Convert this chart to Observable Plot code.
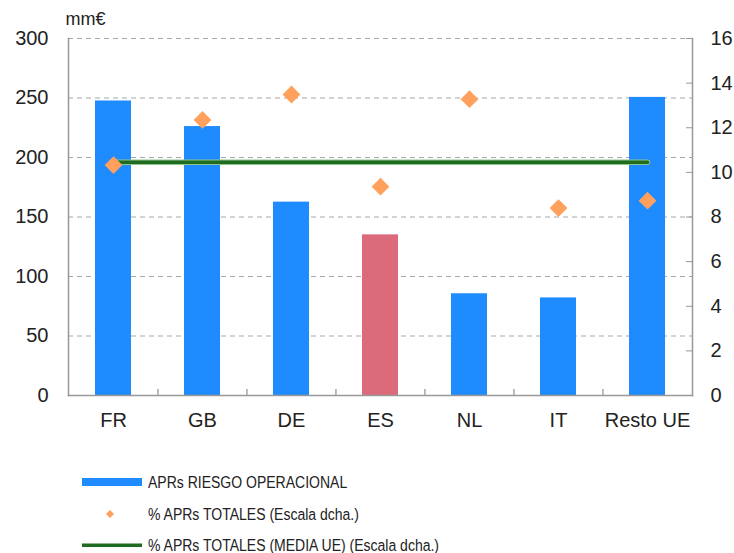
<!DOCTYPE html>
<html>
<head>
<meta charset="utf-8">
<script src="https://cdn.jsdelivr.net/npm/d3@7"></script>
<script src="https://cdn.jsdelivr.net/npm/@observablehq/plot@0.6"></script>
<style>
  html, body { margin: 0; padding: 0; background: #fff; }
  #wrap { position: relative; width: 734px; height: 553px; overflow: hidden; }
  .leg { position: absolute; left: 82px; display: flex; align-items: center; height: 20px;
         font-family: "Liberation Sans", Arial, sans-serif;
         font-size: 16.3px; color: #222; white-space: nowrap; }
  .leg svg { display: block; margin-right: 6px; }
  .leg span { display: inline-block; transform: scaleX(0.86); transform-origin: left center; }
</style>
</head>
<body>
<div id="wrap"></div>
<script>
const categories = ["FR", "GB", "DE", "ES", "NL", "IT", "Resto UE"];
const aprRiesgoOperacional = [247.5, 226, 162.5, 135, 85.5, 82, 250.5];
const pctAprTotales = [10.33, 12.35, 13.49, 9.36, 13.28, 8.40, 8.73];
const mediaUE = 10.45;
const leftTicks = [0, 50, 100, 150, 200, 250, 300];
const rightTicks = [0, 2, 4, 6, 8, 10, 12, 14, 16];
const highlight = "ES";

const blue = "#1E8BFF", pink = "#DB6A7B", orange = "#FFA15C", green = "#1F6B1F";
const k = 300 / 16; // right scale -> left scale

const bars = categories.map((c, i) => ({cat: c, v: aprRiesgoOperacional[i]}));
const dots = categories.map((c, i) => ({cat: c, v: pctAprTotales[i] * k}));
const media = [categories[0], categories[categories.length - 1]].map(c => ({cat: c, v: mediaUE * k}));

const W = 734, ML = 68, MR = 42, MT = 38, MB = 45, H = 440;
const step = (W - ML - MR) / categories.length;

const chart = Plot.plot({
  width: W, height: H,
  marginLeft: ML, marginRight: MR, marginTop: MT, marginBottom: MB,
  style: {fontFamily: "'Liberation Sans', Arial, sans-serif", fontSize: "20px", color: "#222", background: "#fff"},
  x: {domain: categories, paddingInner: 0.6, paddingOuter: 0.3, label: null},
  y: {domain: [0, 300], label: null},
  marks: [
    Plot.gridY(leftTicks.slice(1), {stroke: "#a8a8a8", strokeOpacity: 1, strokeDasharray: "5,4", strokeWidth: 1.2}),
    Plot.barY(bars, {x: "cat", y: "v", fill: d => d.cat === highlight ? pink : blue}),
    Plot.line(media, {x: "cat", y: "v", stroke: "#8fc48f", strokeWidth: 5.5}),
    Plot.line(media, {x: "cat", y: "v", stroke: green, strokeWidth: 3.5}),
    Plot.dot(dots, {x: "cat", y: "v", symbol: "diamond2", r: 8, fill: orange, stroke: "none"}),
    Plot.frame({anchor: "left", stroke: "#999", strokeWidth: 1.5}),
    Plot.frame({anchor: "right", stroke: "#999", strokeWidth: 1.5}),
    Plot.frame({anchor: "bottom", stroke: "#999", strokeWidth: 1.5}),
    Plot.ruleX(categories.slice(1), {x: d => d, y1: 0, y2: 5, dx: -step / 2, stroke: "#999", strokeWidth: 1.3}),
    Plot.axisY({anchor: "left", ticks: leftTicks, tickSize: 0, tickPadding: 20, fontSize: 20}),
    Plot.axisY({anchor: "right", ticks: rightTicks.map(v => v * k), tickFormat: d => Math.round(d / k),
                tickSize: 7, dx: -7, tickPadding: 18, stroke: "#999", fontSize: 20}),
    Plot.axisX({tickSize: 0, tickPadding: 17, fontSize: 20}),
    Plot.text(["mm€"], {frameAnchor: "top-left", dx: -3, dy: -19, textAnchor: "start", lineAnchor: "middle", fontSize: 18})
  ]
});
const wrap = document.getElementById("wrap");
wrap.appendChild(chart);

const legendItems = [
  {label: "APRs RIESGO OPERACIONAL", type: "bar", top: 472},
  {label: "% APRs TOTALES (Escala dcha.)", type: "diamond", top: 504},
  {label: "% APRs TOTALES (MEDIA UE) (Escala dcha.)", type: "line", top: 535}
];
for (const it of legendItems) {
  const div = document.createElement("div");
  div.className = "leg";
  div.style.top = it.top + "px";
  let sw;
  if (it.type === "bar") sw = `<svg width="60" height="20"><rect x="0" y="6" width="60" height="8" fill="${blue}"/></svg>`;
  else if (it.type === "diamond") sw = `<svg width="60" height="20"><path d="M28,6 L32,10 L28,14 L24,10 Z" fill="${orange}"/></svg>`;
  else sw = `<svg width="60" height="20"><rect x="0" y="8.5" width="60" height="3.5" fill="${green}"/></svg>`;
  div.innerHTML = sw + `<span>${it.label}</span>`;
  wrap.appendChild(div);
}
</script>
</body>
</html>
